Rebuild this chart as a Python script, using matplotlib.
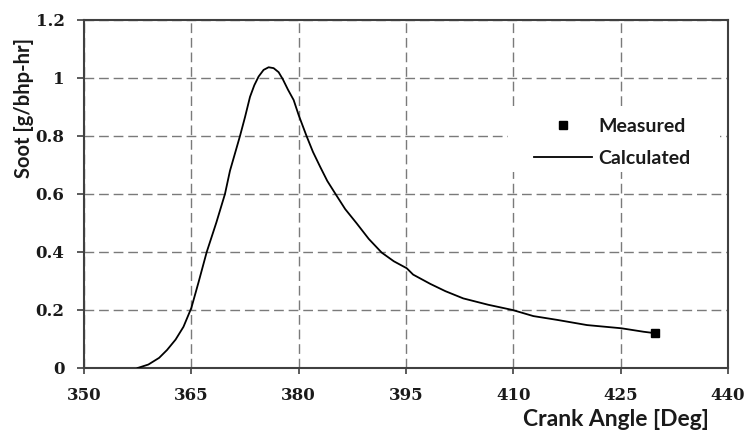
import matplotlib
matplotlib.use("Agg")
import matplotlib.pyplot as plt
from matplotlib.patches import Rectangle

# Data
calc_angle = [357.5, 359.0, 360.5, 361.6, 362.8, 363.9, 365.0, 366.0, 367.15, 368.5,
              369.7, 370.4, 371.1, 371.8, 372.5, 373.2, 373.8, 374.4, 375.1, 375.8,
              376.5, 377.2, 377.8, 378.5, 379.3, 380.0, 381.1, 382.0, 383.0, 384.0,
              385.1, 386.5, 388.1, 389.8, 391.6, 393.3, 395.1, 396.0, 398.4, 400.5,
              403.0, 406.5, 409.9, 412.8, 416.1, 420.3, 425.1, 428.2, 429.5]
calc_soot = [0.0, 0.012, 0.035, 0.062, 0.098, 0.142, 0.207, 0.295, 0.400, 0.502,
             0.600, 0.680, 0.740, 0.800, 0.865, 0.935, 0.975, 1.005, 1.028, 1.037,
             1.034, 1.020, 0.995, 0.960, 0.924, 0.872, 0.800, 0.745, 0.694, 0.645,
             0.602, 0.548, 0.499, 0.445, 0.398, 0.368, 0.344, 0.322, 0.290, 0.265,
             0.240, 0.218, 0.200, 0.179, 0.166, 0.148, 0.137, 0.125, 0.121]
meas_angle = [429.8]
meas_soot = [0.121]

x_ticks = [350, 365, 380, 395, 410, 425, 440]
y_ticks = [0, 0.2, 0.4, 0.6, 0.8, 1.0, 1.2]
y_tick_labels = ["0", "0.2", "0.4", "0.6", "0.8", "1", "1.2"]

fig = plt.figure(figsize=(7.48, 4.32), dpi=100)
ax = fig.add_axes([84 / 748, 64 / 432, 644 / 748, 348 / 432])

ax.plot(calc_angle, calc_soot, color="black", lw=1.3, zorder=3, label="Calculated")
ax.plot(meas_angle, meas_soot, linestyle="none", marker="s", markersize=5.5,
        color="black", zorder=4, label="Measured")

ax.set_xlim(350, 440)
ax.set_ylim(0, 1.2)
ax.set_xticks(x_ticks)
ax.set_yticks(y_ticks)
ax.set_yticklabels(y_tick_labels)

ax.grid(True, color="#7a7a7a", linestyle=(0, (7, 3.5)), linewidth=1.0)
for s in ax.spines.values():
    s.set_color("#404040")
    s.set_linewidth(1.5)
ax.tick_params(axis="both", direction="out", color="#404040", width=1.2,
               labelcolor="#1a1a1a", labelsize=12)
ax.tick_params(axis="y", length=5, pad=9)
ax.tick_params(axis="x", length=4, pad=10)
for lab in ax.get_xticklabels() + ax.get_yticklabels():
    lab.set_family("DejaVu Serif")
    lab.set_weight("bold")

# white legend background covering grid
ax.add_patch(Rectangle((0.658, 0.563), 0.33, 0.178, transform=ax.transAxes,
                       facecolor="white", edgecolor="none", zorder=1.6))

handles, labels = ax.get_legend_handles_labels()
leg = ax.legend(handles[::-1], labels[::-1], loc="center left",
                bbox_to_anchor=(0.699, 0.648), frameon=False, borderpad=0,
                borderaxespad=0, handlelength=3.0, handletextpad=0.3,
                labelspacing=0.75, prop={"family": "Lato", "weight": "bold", "size": 14})
for t in leg.get_texts():
    t.set_color("#1a1a1a")

fig.text(616 / 748, 1 - 420 / 432, "Crank Angle [Deg]", ha="center", va="center",
         fontsize=16.5, fontfamily="Lato", fontweight="bold", color="#1a1a1a")
fig.text(24 / 748, 1 - 108 / 432, "Soot [g/bhp-hr]", ha="center", va="center",
         rotation=90, fontsize=14.5, fontfamily="Lato", fontweight="bold", color="#1a1a1a")

fig.savefig("out.png", dpi=100)
